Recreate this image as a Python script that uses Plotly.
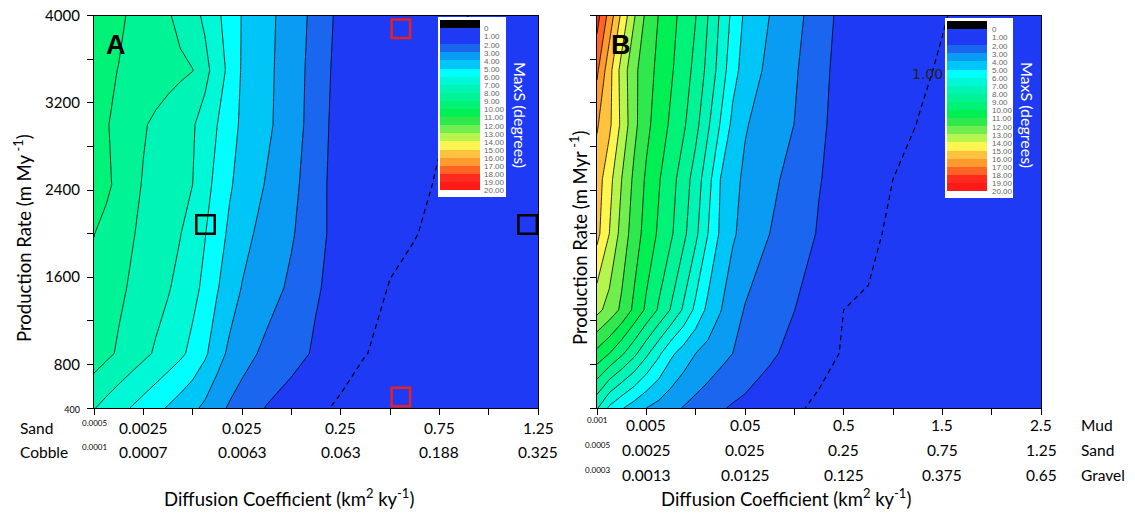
import plotly.graph_objects as go

# The page body has an 8px margin, so the figure is offset by 8px inside the 1135x514 window.
REF_W, REF_H, OFF = 1135, 514, 8
FW, FH = REF_W - OFF, REF_H - OFF
def px(v): return (v - OFF) / FW
def py(v): return 1 - (v - OFF) / FH

# ---------------- data ----------------
x_nodes = [0, 0.25, 0.5, 0.75, 1, 1.25, 1.5, 1.75, 2, 2.25, 2.5, 2.75, 3, 3.5, 4, 4.5, 5, 5.5, 6, 6.5, 7, 7.5, 8, 8.5, 9]

# Panel A: MaxS (degrees) per production-rate row
A_y = [400, 900, 1500, 2000, 2450, 3000, 3500, 4000]
A_z = [
 [7.05, 6.68, 6.32, 5.97, 5.62, 5.27, 4.92, 4.56, 4.21, 3.80, 3.31, 2.88, 2.56, 1.95, 1.58, 1.21, 0.835, 0.78, 0.72, 0.66, 0.60, 0.52, 0.43, 0.34, 0.25],
 [8.54, 8.21, 7.88, 7.55, 7.22, 6.89, 6.54, 6.19, 5.74, 5.16, 4.40, 3.79, 3.38, 2.76, 2.32, 1.88, 1.47, 1.01, 0.91, 0.81, 0.71, 0.61, 0.50, 0.40, 0.30],
 [8.73, 8.45, 8.18, 7.90, 7.63, 7.35, 7.08, 6.70, 6.28, 5.77, 5.06, 4.48, 3.96, 3.41, 2.82, 2.08, 1.70, 1.32, 0.96, 0.86, 0.75, 0.64, 0.53, 0.41, 0.30],
 [9.02, 8.71, 8.40, 8.09, 7.81, 7.55, 7.29, 7.03, 6.55, 6.04, 5.41, 4.82, 4.32, 3.63, 3.10, 2.35, 1.55, 1.38, 1.20, 1.02, 0.88, 0.75, 0.61, 0.48, 0.35],
 [9.63, 9.19, 8.75, 8.32, 7.93, 7.70, 7.47, 7.23, 7.00, 6.34, 5.71, 5.10, 4.68, 3.92, 3.27, 2.43, 1.45, 1.34, 1.22, 1.10, 0.96, 0.82, 0.68, 0.54, 0.40],
 [9.39, 9.07, 8.74, 8.42, 8.09, 7.82, 7.58, 7.33, 7.09, 6.61, 6.00, 5.36, 4.85, 4.19, 3.45, 2.55, 1.49, 1.40, 1.30, 1.20, 1.04, 0.90, 0.75, 0.60, 0.45],
 [9.30, 9.14, 8.98, 8.82, 8.66, 8.50, 8.34, 8.18, 8.02, 7.29, 6.53, 5.72, 4.91, 4.23, 3.48, 2.61, 1.59, 1.47, 1.36, 1.24, 1.12, 0.95, 0.80, 0.65, 0.50],
 [9.65, 9.40, 9.15, 8.89, 8.63, 8.36, 8.10, 7.73, 7.31, 6.82, 6.18, 5.55, 4.96, 4.27, 3.54, 2.70, 1.70, 1.57, 1.45, 1.32, 1.19, 1.03, 0.84, 0.67, 0.50],
]
# Panel B
B_y = [400, 900, 1300, 2000, 2500, 3000, 3500, 4000]
B_z = [
 [7.10, 5.82, 5.09, 4.53, 4.00, 3.65, 3.30, 2.95, 2.67, 2.39, 2.10, 1.90, 1.75, 1.44, 1.13, 0.835, 0.78, 0.72, 0.66, 0.58, 0.50, 0.43, 0.35, 0.28, 0.20],
 [10.70, 10.00, 9.17, 8.26, 7.22, 6.20, 5.20, 4.56, 4.00, 3.67, 3.33, 3.00, 2.72, 2.16, 1.71, 1.31, 0.93, 0.86, 0.80, 0.71, 0.61, 0.52, 0.43, 0.34, 0.25],
 [13.30, 12.61, 11.80, 10.80, 9.81, 8.88, 7.92, 6.87, 5.75, 4.73, 4.05, 3.44, 2.94, 2.47, 2.01, 1.50, 1.00, 0.91, 0.82, 0.74, 0.65, 0.56, 0.47, 0.39, 0.30],
 [15.30, 14.00, 12.62, 11.52, 10.62, 9.86, 9.14, 8.26, 7.22, 6.00, 4.85, 4.12, 3.70, 3.00, 2.44, 1.93, 1.56, 1.19, 0.85, 0.78, 0.71, 0.63, 0.55, 0.45, 0.35],
 [15.50, 14.35, 13.00, 11.80, 10.85, 10.09, 9.35, 8.54, 7.55, 6.38, 5.00, 4.29, 3.83, 3.25, 2.65, 2.04, 1.68, 1.34, 1.00, 0.90, 0.80, 0.70, 0.60, 0.50, 0.40],
 [16.10, 15.21, 13.76, 12.29, 11.26, 10.51, 9.84, 9.16, 8.30, 7.15, 5.94, 4.76, 4.08, 3.51, 2.99, 2.24, 1.49, 1.33, 1.16, 0.99, 0.89, 0.78, 0.67, 0.56, 0.45],
 [17.20, 15.36, 13.62, 12.25, 11.43, 10.75, 10.12, 9.47, 8.72, 7.71, 6.60, 5.35, 4.61, 3.73, 3.12, 2.35, 1.555, 1.40, 1.26, 1.08, 0.95, 0.84, 0.73, 0.61, 0.50],
 [18.40, 16.62, 14.77, 13.12, 11.77, 10.97, 10.32, 9.67, 9.03, 8.00, 6.87, 5.75, 4.83, 3.99, 3.30, 2.52, 1.655, 1.52, 1.38, 1.24, 1.03, 0.89, 0.76, 0.63, 0.50],
]

band_colors = ["#000000", "#1F3AF4", "#1F3AF4", "#1A66EE", "#0A9CF2", "#00C6F8", "#00FFFF",
               "#00F8D6", "#00F4B6", "#00F496", "#00F276", "#00F054", "#2EE84E", "#70EE4E",
               "#B6F54E", "#FFF550", "#FFC23E", "#FF9A2E", "#FF6424", "#FF2A1E", "#FF1A1A"]
legend_labels = ["0", "1.00", "2.00", "3.00", "4.00", "5.00", "6.00", "7.00", "8.00", "9.00", "10.00",
                 "11.00", "12.00", "13.00", "14.00", "15.00", "16.00", "17.00", "18.00", "19.00", "20.00"]
legend_values = list(range(21))

tick_idx = [0, 1, 2, 3, 4, 5, 6, 7, 8, 9]
label_idx = [0, 1, 3, 5, 7, 9]
A_rows = {"Sand": ["0.0005", "0.0025", "0.025", "0.25", "0.75", "1.25"],
          "Cobble": ["0.0001", "0.0007", "0.0063", "0.063", "0.188", "0.325"]}
B_rows = {"Mud": ["0.001", "0.005", "0.05", "0.5", "1.5", "2.5"],
          "Sand": ["0.0005", "0.0025", "0.025", "0.25", "0.75", "1.25"],
          "Gravel": ["0.0003", "0.0013", "0.0125", "0.125", "0.375", "0.65"]}
y_ticks = [400, 800, 1200, 1600, 2000, 2400, 2800, 3200, 3600, 4000]
y_ticktext = ["<span style='font-size:9px'>400</span>", "800", " ", "1600", " ", "2400", " ", "3200", " ", "4000"]

black_sq_x = [2.26, 8.79]
black_sq_y = [2084, 2084]
red_sq_x = [6.22, 6.22]
red_sq_y = [3880, 502]

# ---------------- figure ----------------
n = len(band_colors)
cscale = [[i / (n - 1), c] for i, c in enumerate(band_colors)]
FONT = "Lato"
fig = go.Figure()

def add_panel(z, yv, xa, ya):
    base = dict(x=x_nodes, y=yv, z=z, xaxis=xa, yaxis=ya, showscale=False,
                hoverinfo="skip", autocontour=False)
    fig.add_trace(go.Contour(**base, colorscale=cscale,
                             contours=dict(start=0, end=19, size=1, coloring="fill", showlines=False),
                             line=dict(width=0, smoothing=0)))
    fig.add_trace(go.Contour(**base, contours=dict(start=2, end=19, size=1, coloring="none"),
                             line=dict(color="black", width=0.8, smoothing=0)))
    fig.add_trace(go.Contour(**base, contours=dict(start=1, end=1, size=1, coloring="none"),
                             line=dict(color="black", width=1.2, dash="5px,4px", smoothing=0)))

add_panel(A_z, A_y, "x", "y")
add_panel(B_z, B_y, "x2", "y2")

fig.add_trace(go.Scatter(x=black_sq_x, y=black_sq_y, xaxis="x", yaxis="y", mode="markers",
                         marker=dict(symbol="square-open", size=18.5, color="black",
                                     line=dict(width=2.5, color="black")),
                         hoverinfo="skip", showlegend=False, cliponaxis=False))
fig.add_trace(go.Scatter(x=red_sq_x, y=red_sq_y, xaxis="x", yaxis="y", mode="markers",
                         marker=dict(symbol="square-open", size=18.5, color="#E82020",
                                     line=dict(width=2.5, color="#E82020")),
                         hoverinfo="skip", showlegend=False, cliponaxis=False))

# colour keys as heatmaps on their own small axes
sw = 8.095
edges = [3 + sw * j for j in range(len(legend_values) + 1)]
for xa, ya in (("x3", "y3"), ("x4", "y4")):
    fig.add_trace(go.Heatmap(z=[[1]], x=[0, 68], y=[0, 180], xaxis=xa, yaxis=ya,
                             colorscale=[[0, "white"], [1, "white"]], showscale=False, hoverinfo="skip"))
    fig.add_trace(go.Heatmap(z=[[v] for v in legend_values], x=[2, 42], y=edges, xaxis=xa, yaxis=ya,
                             zmin=0, zmax=20, colorscale=cscale, showscale=False, hoverinfo="skip"))

ann = []
def note(x, y, text, size, xref="paper", yref="paper", xanchor="center", yanchor="middle",
         family=FONT, color="black", angle=0):
    ann.append(dict(xref=xref, yref=yref, x=x, y=y, text=text, showarrow=False, xanchor=xanchor,
                    yanchor=yanchor, textangle=angle, font=dict(family=family, size=size, color=color)))

for xa, ya in (("x3", "y3"), ("x4", "y4")):
    for k, t in enumerate(legend_labels):
        note(44.5, edges[k + 1] + 0.8, t, 8, xref=xa, yref=ya, xanchor="left",
             family="Liberation Sans", color="#666666")
for cx in (521, 1028):
    note(px(cx), py(115), "MaxS (degrees)", 16, color="white", angle=90)

def rows(labels_dict, xa, ys, name_x):
    for (name, labels), yy in zip(labels_dict.items(), ys):
        note(px(name_x), py(yy), name, 15.5, xanchor="left")
        for i, (xi, t) in enumerate(zip(label_idx, labels)):
            small = i == 0
            note(xi, py(yy - 5 if small else yy), t, 8 if small else 15.5, xref=xa)
rows(A_rows, "x", [428, 452], 18)
rows(B_rows, "x2", [425, 450, 475], 1079)

for cx, t in ((22, "Production Rate (m My<sup> -1</sup>)"), (578, "Production Rate (m Myr<sup> -1</sup>)")):
    note(px(cx), py(238), t, 18.5, angle=-90)
for cx in (289, 786):
    note(px(cx), py(497), "Diffusion Coefficient (km<sup>2</sup> ky<sup>-1</sup>)", 18.5)
for cx, t in ((116, "A"), (621, "B")):
    note(px(cx), py(45), "<b>" + t + "</b>", 27, family="Liberation Sans")
note(7.06, 3465, "1.00", 14, xref="x2", yref="y2", xanchor="right", family="DejaVu Sans", color="#222222")

ax_common = dict(showgrid=False, zeroline=False, showline=True, mirror=True, linecolor="black",
                 linewidth=1.2, ticks="outside", ticklen=6, tickcolor="black", tickwidth=1,
                 automargin=False)
fig.update_layout(
    width=FW, height=FH, margin=dict(l=0, r=0, t=0, b=0, pad=0, autoexpand=False),
    paper_bgcolor="white", plot_bgcolor="white", showlegend=False, annotations=ann,
    xaxis=dict(domain=[px(94), px(538)], range=[0, 9], tickvals=tick_idx, showticklabels=False,
               anchor="y", **ax_common),
    yaxis=dict(domain=[py(408), py(15.7)], range=[400, 4000], tickvals=y_ticks, ticktext=y_ticktext,
               tickfont=dict(family=FONT, size=15, color="black"), anchor="x", ticklabelstandoff=4,
               ticklabeloverflow="allow", **ax_common),
    xaxis2=dict(domain=[px(597), px(1041)], range=[0, 9], tickvals=tick_idx, showticklabels=False,
                anchor="y2", **ax_common),
    yaxis2=dict(domain=[py(408), py(15.7)], range=[400, 4000], tickvals=y_ticks, showticklabels=False,
                anchor="x2", **ax_common),
    xaxis3=dict(domain=[px(438), px(506)], range=[0, 68], visible=False, anchor="y3", fixedrange=True),
    yaxis3=dict(domain=[py(197), py(17)], range=[180, 0], visible=False, anchor="x3", fixedrange=True),
    xaxis4=dict(domain=[px(945), px(1013)], range=[0, 68], visible=False, anchor="y4", fixedrange=True),
    yaxis4=dict(domain=[py(198), py(18)], range=[180, 0], visible=False, anchor="x4", fixedrange=True),
)
fig.write_html("out.html")
